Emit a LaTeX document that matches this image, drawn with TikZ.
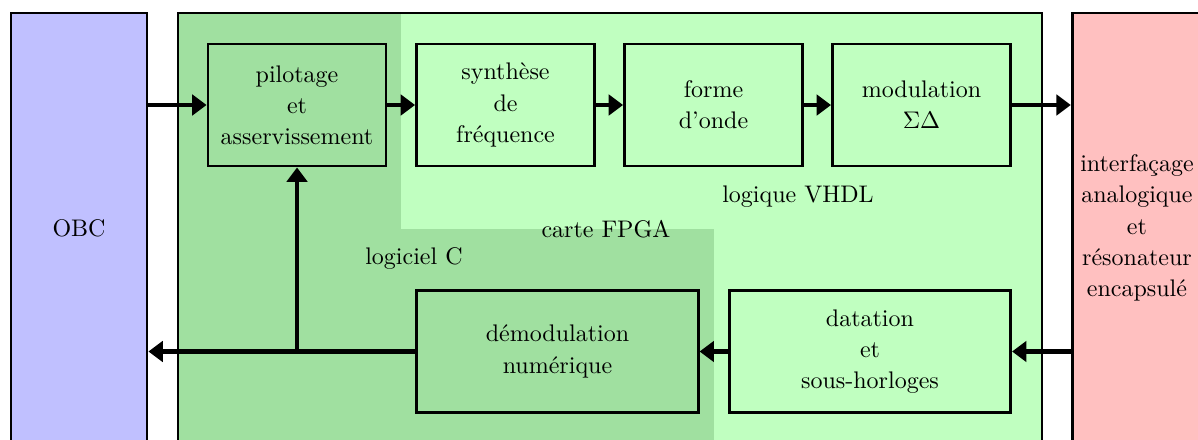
\documentclass[tikz,border=0pt]{standalone}
\usepackage{fontspec}
\usepackage{tikz}
\usetikzlibrary{arrows.meta,calc,positioning}
\definecolor{BleuOBC}{RGB}{192,192,255}
\definecolor{RougeInterf}{RGB}{255,192,192}
\definecolor{VertVHDL}{RGB}{192,255,192}
\definecolor{VertLogiciel}{RGB}{160,224,160}

\begin{document}
\begin{tikzpicture}[
    every node/.style={font=\fontsize{10pt}{13pt}\selectfont},
    bloc/.style={draw,line width=1.2pt,align=center,minimum width=2.607cm,minimum height=1.787cm},
    long/.style={bloc,minimum width=4.12cm},
    fleche/.style={line width=2pt,-{Triangle[length=6pt,width=8.5pt]}}
  ]
  \useasboundingbox (0,0) rectangle (17.546,6.430);
  \clip (0,0) rectangle (17.546,6.430);
  % carte FPGA
  \fill[VertVHDL] (2.607,-0.06) rectangle (15.261,6.239);
  \fill[VertLogiciel] (2.607,6.239) -- (5.873,6.239) -- (5.873,3.076)
    -- (10.457,3.076) -- (10.457,-0.06) -- (2.607,-0.06) -- cycle;
  \draw[line width=1.2pt] (2.607,-0.06) rectangle (15.261,6.239);
  \node at (11.687,3.544) {logique VHDL};
  \node at (8.875,3.076) {carte FPGA};
  \node at (6.063,2.651) {logiciel C};
  % blocs exterieurs
  \node[bloc,fill=BleuOBC,minimum width=1.992cm,minimum height=6.30cm]
    (obc) at (1.157,3.090) {OBC};
  \node[bloc,fill=RougeInterf,minimum width=1.875cm,minimum height=6.30cm]
    (interf) at (16.652,3.090) {interfaçage\\analogique\\et\\résonateur\\encapsulé};
  % chaine d'emission
  \node[bloc,fill=VertLogiciel] (pil) at (4.350,4.892) {pilotage\\et\\asservissement};
  \node[bloc,fill=VertVHDL] (synth) at (7.404,4.892) {synthèse\\de\\fréquence};
  \node[bloc,fill=VertVHDL] (forme) at (10.450,4.892) {forme\\d'onde};
  \node[bloc,fill=VertVHDL] (mod) at (13.496,4.892) {modulation\\$\Sigma\Delta$};
  % chaine de retour
  \node[long,fill=VertLogiciel] (demod) at (8.165,1.282) {démodulation\\numérique};
  \node[long,fill=VertVHDL] (dat) at (12.742,1.282) {datation\\et\\sous-horloges};
  \coordinate (jonction) at (pil.south |- demod.west);
  % liaisons
  \draw[fleche] (obc.east |- pil.west) -- (pil.west);
  \foreach \a/\b in {pil/synth,synth/forme,forme/mod}
    \draw[fleche] (\a.east) -- (\b.west);
  \draw[fleche] (mod.east) -- (interf.west |- mod.east);
  \draw[fleche] (interf.west |- dat.east) -- (dat.east);
  \draw[fleche] (dat.west) -- (demod.east);
  \draw[fleche] (demod.west) -- (obc.east |- demod.west);
  \draw[fleche] (jonction) -- (pil.south);
\end{tikzpicture}
\end{document}
